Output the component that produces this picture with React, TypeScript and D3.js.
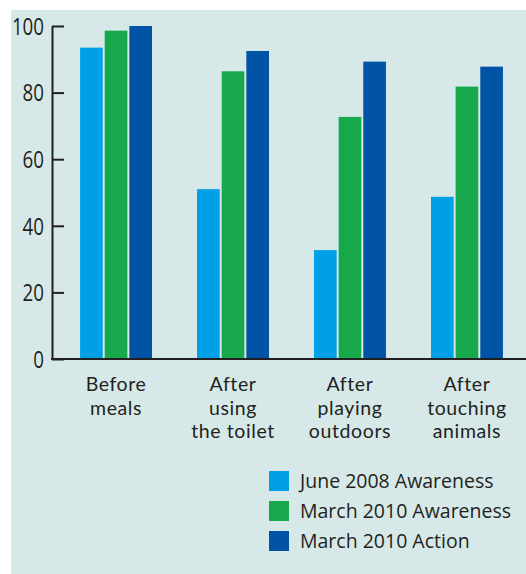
import React, { useEffect, useRef } from 'react';
import * as d3 from 'd3';

const categories = ['Before meals', 'After using the toilet', 'After playing outdoors', 'After touching animals'];
const categoryLines = [['Before', 'meals'], ['After', 'using', 'the toilet'], ['After', 'playing', 'outdoors'], ['After', 'touching', 'animals']];
const seriesNames = ['June 2008 Awareness', 'March 2010 Awareness', 'March 2010 Action'];
const june2008Awareness = [93.5, 51, 32.7, 48.7];
const march2010Awareness = [98.6, 86.4, 72.7, 81.8];
const march2010Action = [100, 92.5, 89.3, 87.8];
const yTicks = [0, 20, 40, 60, 80, 100];

const colors = ['#00a0e6', '#16a84b', '#0153a5'];
const seriesValues = [june2008Awareness, march2010Awareness, march2010Action];

const W = 526;
const H = 574;
const font = '"Open Sans", sans-serif';

const App = () => {
  const axisRef = useRef<SVGGElement>(null);

  const y = d3.scaleLinear().domain([0, 100]).range([359, 26]);
  const x = d3.scaleBand().domain(categories).range([52, 531]).paddingInner(0.385).paddingOuter(0.24);
  const xSub = d3.scaleBand().domain(seriesNames).range([0, x.bandwidth()]).paddingInner(0.08);

  useEffect(() => {
    if (!axisRef.current) return;
    const g = d3.select(axisRef.current);
    g.call(d3.axisLeft(y).tickValues(yTicks).tickSizeInner(-12).tickSizeOuter(0).tickPadding(8));
    g.selectAll('path.domain').attr('stroke', '#231f20').attr('stroke-width', 2);
    g.selectAll('.tick line').attr('stroke', '#231f20').attr('stroke-width', 2);
    // digits in the original are narrow, so squeeze them a little
    g.selectAll<SVGTextElement, number>('.tick text')
      .attr('fill', '#231f20')
      .style('font-family', font)
      .style('font-size', '23px')
      .attr('dy', '0.36em')
      .attr('textLength', (d) => String(d).length * 10.7)
      .attr('lengthAdjust', 'spacingAndGlyphs');
  }, []);

  return (
    <svg width={W} height={H} style={{ position: 'absolute', left: 0, top: 0 }}>
      <rect x={11} y={10} width={W - 11} height={H - 10} fill="#d6e9e8" />
      {categories.map((c, ci) => (
        <g key={c} transform={`translate(${x(c)},0)`}>
          {seriesNames.map((s, si) => (
            <rect
              key={s}
              x={xSub(s)}
              y={y(seriesValues[si][ci])}
              width={xSub.bandwidth()}
              height={y(0) - y(seriesValues[si][ci])}
              fill={colors[si]}
            />
          ))}
        </g>
      ))}
      <g ref={axisRef} transform={`translate(52,0)`} />
      <line x1={51} x2={W} y1={y(0)} y2={y(0)} stroke="#231f20" strokeWidth={2} />
      {categories.map((c, ci) =>
        categoryLines[ci].map((line, li) => (
          <text
            key={c + li}
            x={(x(c) || 0) + x.bandwidth() / 2}
            y={391 + li * 23.5}
            textAnchor="middle"
            fill="#231f20"
            style={{ fontFamily: 'Lato, sans-serif', fontSize: '19.5px', letterSpacing: '0.6px' }}
          >
            {line}
          </text>
        ))
      )}
      {seriesNames.map((s, si) => (
        <g key={s} transform={`translate(269,${471 + si * 30})`}>
          <rect width={20} height={20} fill={colors[si]} />
          <text x={31} y={17} fill="#231f20" style={{ fontFamily: font, fontSize: '19.5px' }}>
            {s}
          </text>
        </g>
      ))}
    </svg>
  );
};

export default App;
